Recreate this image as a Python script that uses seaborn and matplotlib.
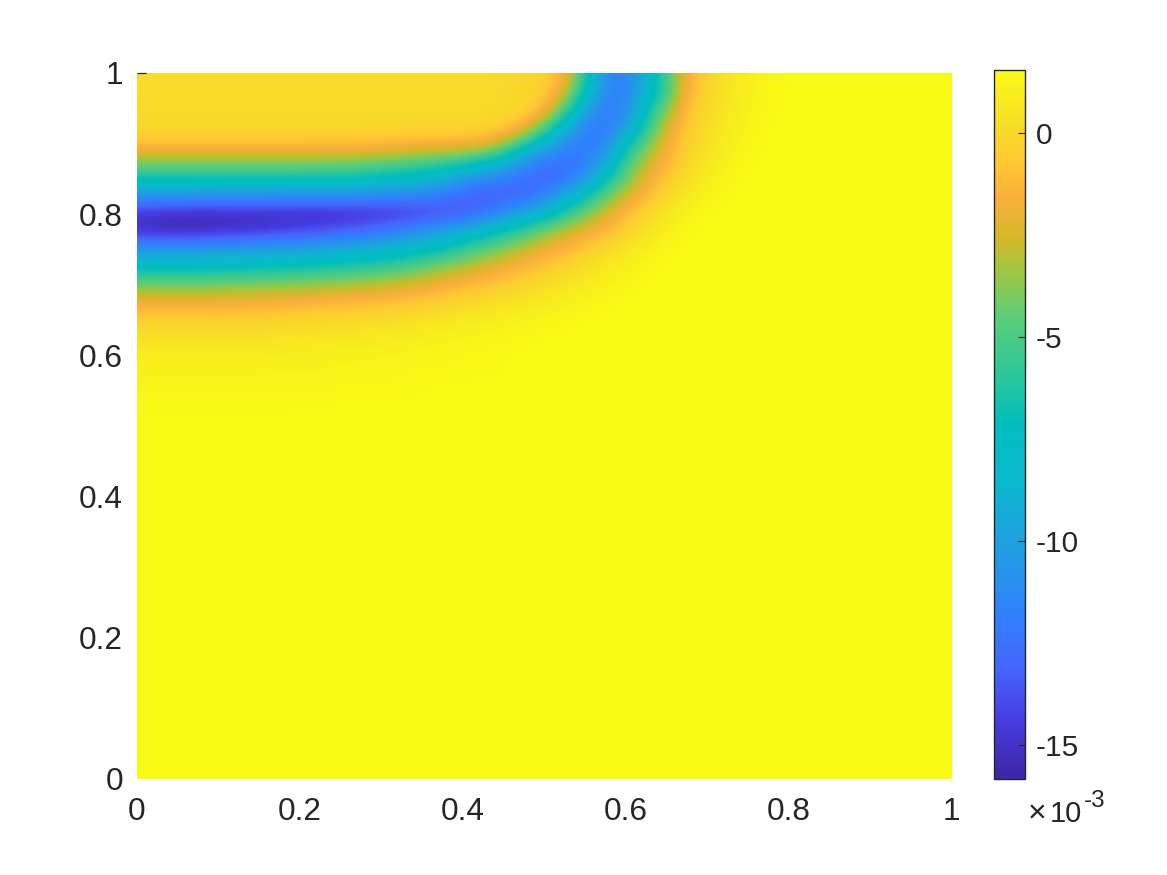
import matplotlib
matplotlib.use("Agg")
import matplotlib.pyplot as plt
import numpy as np
import seaborn as sns
from matplotlib.colors import LinearSegmentedColormap, Normalize

# values are in units of 1e-3, columns run x = 0 .. 1 in steps of 0.025
row_1000 = [.15]*18 + [.1, 0, -.3, -1.2, -6, -11, -12, -8.5, -5, -1.6, -.3, .5, 1, 1.3, 1.45, 1.5] + [1.55]*7
row_0975 = [.15]*18 + [.05, -.1, -.5, -1.9, -7, -11.5, -12, -9, -5.5, -1.4, -.2, .6, 1.05, 1.35, 1.5, 1.52] + [1.55]*7
row_0950 = [.1]*18 + [.05, -.1, -.8, -4.5, -9.5, -12, -11.5, -7.2, -4.1, -.9, 0, .7, 1.1, 1.4, 1.5] + [1.55]*8
row_0925 = [.05]*16 + [0, -.05, -.2, -1.1, -4.2, -8.2, -11.5, -12.2, -10.5, -6.2, -2.5, -.7, .2, .8, 1.2, 1.45] + [1.55]*9
row_0900 = [-.7]*12 + [-.9, -1, -1.1, -1.15, -1.2, -1.4, -2.8, -5.5, -8.3, -11, -12.3, -11.7, -7.5, -4.5, -1.9, -.4, .4, .95, 1.3, 1.5] + [1.55]*9
row_0875 = [-3.4]*9 + [-3.5, -3.6, -3.7, -3.9, -4.2, -4.5, -4.9, -5.3, -6.5, -8, -10.8, -12.2, -12.6, -12.2, -9.6, -5.6, -2.8, -1.5, -.1, .6, 1.1, 1.4, 1.52] + [1.55]*9
row_0850 = [-6.6]*11 + [-6.9, -7.3, -7.6, -8.1, -9, -10.5, -11.3, -11.9, -12.6, -12.9, -12.6, -10.8, -7.2, -4.4, -2, -.8, .3, .9, 1.3, 1.5] + [1.55]*10
row_0825 = [-10.8]*4 + [-10.9]*4 + [-11, -11, -11.1, -11.2, -11.3, -11.5, -11.7, -12.3, -12.9, -13.5, -13.4, -12.9, -12, -9.5, -7, -4.5, -2.5, -1.2, 0, .7, 1.2, 1.45] + [1.55]*11
row_0800 = [-14.8, -15, -15.2, -15.3, -15.3, -15.3, -15.3, -15.3, -15.3, -15.3, -15.2, -15.1, -15, -14.8, -14.5, -14.1, -13.5, -12.6, -11.2, -9.8, -8.3, -6.2, -4.2, -2.5, -1.2, -.1, .7, 1.15, 1.45] + [1.55]*12
row_0775 = [-15.2, -15.4, -15.5, -15.4, -15.2, -15, -14.8, -14.5, -14.2, -13.9, -13.5, -13, -12.4, -11.7, -11, -10, -9.2, -8, -6.8, -5.4, -4, -2.8, -1.9, -1.3, -.3, .5, 1, 1.4] + [1.55]*13
row_0750 = [-10.7, -10.6, -10.5, -10.5, -10.4, -10.3, -10.2, -10.1, -9.9, -9.7, -9.4, -9.1, -8.8, -8.3, -7.8, -7, -5.8, -4.8, -3.8, -2.9, -2, -1.4, -.7, 0, .6, 1, 1.35, 1.5] + [1.55]*13
row_0725 = [-7.5]*4 + [-7.4, -7.3, -7.2, -7.1, -6.9, -6.7, -6.5, -6.2, -5.8, -5.3, -4.6, -3.8, -3.2, -2.5, -1.9, -1.3, -.8, -.2, .3, .7, 1.05, 1.3, 1.5] + [1.55]*14
row_0700 = [-4.2]*4 + [-4.1, -4.05, -3.9, -3.8, -3.7, -3.5, -3.3, -3.1, -2.9, -2.6, -2.2, -1.8, -1.4, -1, -.6, -.2, .2, .5, .8, 1.05, 1.3, 1.45] + [1.55]*15
row_0675 = [-1.9]*5 + [-1.85, -1.8, -1.7, -1.6, -1.45, -1.3, -1.2, -1.1, -.9, -.7, -.4, -.1, .15, .4, .6, .8, 1, 1.2, 1.35, 1.5] + [1.55]*16
row_0650 = [-.4]*5 + [-.35, -.3, -.25, -.2, -.1, 0, .1, .2, .3, .45, .6, .75, .9, 1, 1.15, 1.25, 1.35, 1.45, 1.5] + [1.55]*17
row_0625 = [.35]*5 + [.38, .4, .45, .5, .55, .6, .68, .75, .85, .95, 1.05, 1.15, 1.2, 1.3, 1.35, 1.45, 1.5] + [1.55]*19
row_0600 = [.85]*5 + [.87, .9, .92, .95, 1, 1.05, 1.1, 1.15, 1.2, 1.25, 1.3, 1.35, 1.4, 1.45, 1.5] + [1.55]*21
row_0575 = [1.1]*7 + [1.15]*3 + [1.25]*3 + [1.35]*3 + [1.45]*3 + [1.55]*22
row_0550 = [1.3]*10 + [1.4]*4 + [1.5]*4 + [1.55]*23
row_0525 = [1.45]*10 + [1.5]*6 + [1.55]*25
row_0500 = [1.5]*8 + [1.55]*33
row_lower = [1.55]*41

grid = [row_1000, row_0975, row_0950, row_0925, row_0900, row_0875, row_0850, row_0825, row_0800,
        row_0775, row_0750, row_0725, row_0700, row_0675, row_0650, row_0625, row_0600, row_0575,
        row_0550, row_0525, row_0500] + [row_lower]*20

tick_values = [0, 0.2, 0.4, 0.6, 0.8, 1]
tick_labels = ['0', '0.2', '0.4', '0.6', '0.8', '1']
cbar_ticks = [-15, -10, -5, 0]
cbar_labels = ['-15', '-10', '-5', '0']

parula_stops = [(0.00, (62, 38, 168)), (0.08, (70, 60, 225)), (0.15, (70, 100, 250)), (0.22, (50, 125, 255)),
                (0.33, (30, 160, 225)), (0.42, (10, 185, 205)), (0.50, (0, 190, 190)), (0.58, (50, 200, 150)),
                (0.65, (90, 205, 120)), (0.71, (150, 200, 70)), (0.76, (210, 185, 40)), (0.82, (250, 175, 60)),
                (0.87, (255, 200, 50)), (0.92, (248, 220, 40)), (1.00, (249, 251, 20))]
cmap = LinearSegmentedColormap.from_list('parula_like', [(t, tuple(c/255 for c in rgb)) for t, rgb in parula_stops], N=256)
VMIN, VMAX = -15.82, 1.55

plt.rcParams['font.family'] = ['Liberation Sans', 'DejaVu Sans']
TEXT = '#262626'
W, H = 1167, 875

fig = plt.figure(figsize=(W/100, H/100), dpi=100)
ax = fig.add_axes([137/W, (H-778.5)/H, 814/W, 705.5/H])
cax = fig.add_axes([993.5/W, (H-778.5)/H, 31.5/W, 708.5/H])

sns.heatmap(np.array(grid), ax=ax, cbar_ax=cax, cmap=cmap, vmin=VMIN, vmax=VMAX,
            xticklabels=False, yticklabels=False, cbar_kws={'ticks': cbar_ticks})

# heatmap cells are flat, the reference surface is interpolated: same grid, smooth shading on top
ax.imshow(np.array(grid), cmap=cmap, norm=Normalize(VMIN, VMAX), interpolation='bicubic',
          interpolation_stage='data', aspect='auto', zorder=1.2, extent=(-.5, 40.5, 40.5, -.5))

n = len(row_lower) - 1
ax.set_xlim(0, n)
ax.set_ylim(n, 0)
ax.set_xticks([v*n for v in tick_values], tick_labels)
ax.set_yticks([(1-v)*n for v in tick_values], tick_labels)
ax.tick_params(axis='x', length=0, labelsize=22.7, labelcolor=TEXT, pad=13)
ax.tick_params(axis='y', direction='in', length=6.5, width=0.9, color=TEXT, labelsize=22.7, labelcolor=TEXT, pad=10)
plt.setp(ax.get_yticklabels(), rotation=0)
# only the tick at y = 1 shows, the others stay behind the surface
for tick, value in zip(ax.yaxis.get_major_ticks(), tick_values):
    tick.tick1line.set_visible(value == 1)
for s in ax.spines.values():
    s.set_visible(False)

cbar = ax.collections[0].colorbar
cbar.set_ticks(cbar_ticks, labels=cbar_labels)
cbar.ax.tick_params(direction='in', length=5, width=0.8, color=TEXT, labelsize=21.5, labelcolor=TEXT, pad=8)
cbar.outline.set_linewidth(1)
cbar.outline.set_edgecolor(TEXT)

# colorbar exponent label
fig.text(1028/W, (H-822)/H, '\u00d7', fontsize=23, color=TEXT, ha='left', va='baseline')
fig.text(1050/W, (H-822)/H, '10', fontsize=21, color=TEXT, ha='left', va='baseline')
fig.text(1084/W, (H-807)/H, '-3', fontsize=17.5, color=TEXT, ha='left', va='baseline')

fig.savefig('out.png', dpi=100)
